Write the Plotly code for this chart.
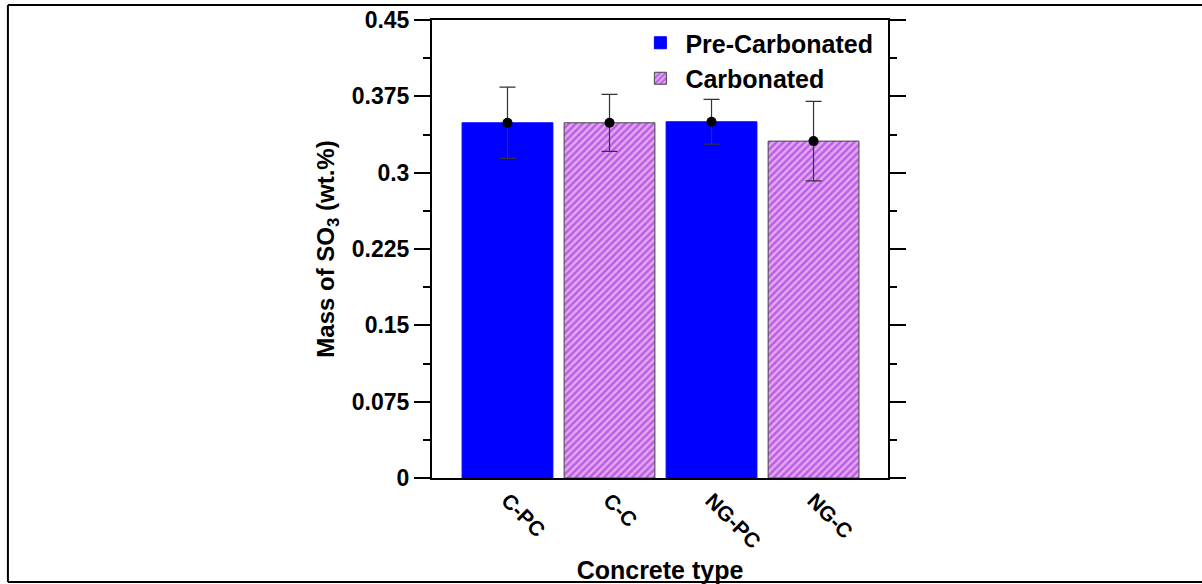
import plotly.graph_objects as go

categories = ["C-PC", "C-C", "NG-PC", "NG-C"]
pre_cats = ["C-PC", "NG-PC"]
pre_vals = [0.349, 0.350]
carb_cats = ["C-C", "NG-C"]
carb_vals = [0.349, 0.331]
means = [0.349, 0.349, 0.350, 0.331]
errors = [0.035, 0.028, 0.022, 0.039]
y_ticks = [0, 0.075, 0.15, 0.225, 0.3, 0.375, 0.45]
y_ticktext = ["0", "0.075", "0.15", "0.225", "0.3", "0.375", "0.45"]

FONT = "Arial, Liberation Sans, sans-serif"

fig = go.Figure()
fig.add_trace(go.Bar(
    x=pre_cats, y=pre_vals, name="<b>Pre-Carbonated</b>", width=0.89,
    marker=dict(color="#0000FF", line=dict(color="#0000FF", width=1)),
))
fig.add_trace(go.Bar(
    x=carb_cats, y=carb_vals, name="<b>Carbonated</b>", width=0.89,
    marker=dict(color="white", line=dict(color="#444444", width=1),
                pattern=dict(shape="/", fgcolor="#9414D2", bgcolor="#E2A8F4",
                             size=5, solidity=0.5)),
))
fig.add_trace(go.Scatter(
    x=categories, y=means, mode="markers", showlegend=False,
    marker=dict(color="black", size=10),
    error_y=dict(type="data", array=errors, color="#333333", thickness=1.2, width=8),
))

# outer frame
frame = dict(color="black", width=2)
fig.add_shape(type="line", xref="paper", yref="paper", x0=-0.93, x1=1.69, y0=1.0328, y1=1.0328, line=frame)
fig.add_shape(type="line", xref="paper", yref="paper", x0=-0.93, x1=-0.93, y0=1.0328, y1=-0.227, line=frame)
fig.add_shape(type="line", xref="paper", yref="paper", x0=-0.93, x1=1.69, y0=-0.227, y1=-0.227, line=frame)

fig.update_layout(
    width=1202, height=584,
    margin=dict(l=432, r=314, t=20, b=106, autoexpand=False),
    paper_bgcolor="white", plot_bgcolor="white",
    barmode="overlay",
    font=dict(family=FONT, size=22, color="black"),
    legend=dict(x=0.446, y=1.0, xanchor="left", yanchor="top",
                font=dict(size=25, family=FONT), bgcolor="rgba(0,0,0,0)",
                tracegroupgap=0, itemwidth=40),
    showlegend=True,
)
fig.update_xaxes(
    categoryorder="array", categoryarray=categories,
    tickvals=categories, ticktext=["<b>%s</b>" % c for c in categories],
    range=[-0.74, 3.73], automargin=False,
    showline=True, linecolor="black", linewidth=2, mirror=True,
    ticks="", tickangle=45, tickfont=dict(size=21, family=FONT),
    title=dict(text="<b>Concrete type</b>", font=dict(size=25, family=FONT), standoff=18),
    showgrid=False, zeroline=False,
)
fig.update_yaxes(
    range=[0, 0.45], tickvals=y_ticks, ticktext=["<b>%s</b>" % t for t in y_ticktext],
    automargin=False,
    showline=True, linecolor="black", linewidth=2, mirror="allticks",
    ticks="outside", ticklen=16, tickwidth=2, tickcolor="black",
    minor=dict(dtick=0.075, tick0=0.0375, ticks="outside", ticklen=7, tickwidth=2, tickcolor="black"),
    tickfont=dict(size=23, family=FONT),
    title=dict(text="<b>Mass of SO<sub>3</sub> (wt.%)</b>", font=dict(size=24, family=FONT), standoff=10),
    showgrid=False, zeroline=False,
)

fig.write_html("out.html", config={"displayModeBar": False},
               post_script="document.body.style.margin='0';")
